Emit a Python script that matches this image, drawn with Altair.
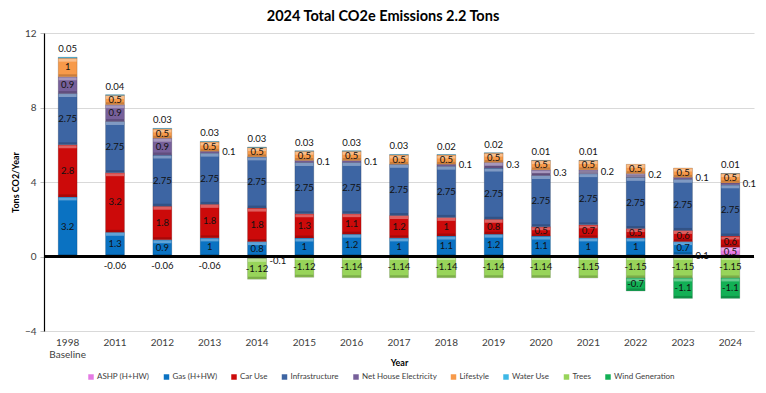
import altair as alt
import pandas as pd

title_text = "2024 Total CO2e Emissions 2.2 Tons"
years = ["1998|Baseline", "2011", "2012", "2013", "2014", "2015", "2016", "2017",
         "2018", "2019", "2020", "2021", "2022", "2023", "2024"]
series = ["ASHP (H+HW)", "Gas (H+HW)", "Car Use", "Infrastructure",
          "Net House Electricity", "Lifestyle", "Water Use", "Trees", "Wind Generation"]
colors = ["#E47AE4", "#0A72C2", "#CC0A0A", "#3D65A3", "#77609A", "#F79A4A",
          "#3DB8E6", "#98D45A", "#12B055"]

ashp      = [0, 0, 0, 0, 0, 0, 0, 0, 0, 0, 0, 0, 0, 0.1, 0.5]
gas       = [3.2, 1.3, 0.9, 1, 0.8, 1, 1.2, 1, 1.1, 1.2, 1.1, 1, 1, 0.7, 0]
car_use   = [2.8, 3.2, 1.8, 1.8, 1.8, 1.3, 1.1, 1.2, 1, 0.8, 0.5, 0.7, 0.5, 0.6, 0.6]
infra     = [2.75, 2.75, 2.75, 2.75, 2.75, 2.75, 2.75, 2.75, 2.75, 2.75, 2.75, 2.75, 2.75, 2.75, 2.75]
house_el  = [0.9, 0.9, 0.9, 0.1, -0.1, 0.1, 0.1, 0, 0.1, 0.3, 0.3, 0.2, 0.2, 0.1, 0.1]
lifestyle = [1, 0.5, 0.5, 0.5, 0.5, 0.5, 0.5, 0.5, 0.5, 0.5, 0.5, 0.5, 0.5, 0.5, 0.5]
water     = [0.05, 0.04, 0.03, 0.03, 0.03, 0.03, 0.03, 0.03, 0.02, 0.02, 0.01, 0.01, 0, 0, 0.01]
trees     = [0, -0.06, -0.06, -0.06, -1.12, -1.12, -1.14, -1.14, -1.14, -1.14, -1.14, -1.15, -1.15, -1.15, -1.15]
wind      = [0, 0, 0, 0, 0, 0, 0, 0, 0, 0, 0, 0, -0.7, -1.1, -1.1]

values = [ashp, gas, car_use, infra, house_el, lifestyle, water, trees, wind]

rows = []
for si, (s, vals) in enumerate(zip(series, values)):
    for y, v in zip(years, vals):
        if v != 0:
            rows.append({"year": y, "series": s, "order": si, "value": v, "label": f"{v:g}"})
df = pd.DataFrame(rows)

FONT = "Lato"

base = alt.Chart(df).transform_stack(
    stack="value", groupby=["year"], as_=["y0", "y1"], sort=[alt.SortField("order")]
).transform_calculate(
    mid="(datum.y0 + datum.y1) / 2",
    top="max(datum.y0, datum.y1)",
    bot="min(datum.y0, datum.y1)",
    pos="datum.series == 'Water Use' ? 'above' : "
        "((datum.series == 'Net House Electricity' || datum.series == 'ASHP (H+HW)') && abs(datum.value) <= 0.3 ? 'right' : "
        "(datum.series == 'Trees' && abs(datum.value) < 0.3 ? 'below' : 'in'))"
)

xenc = alt.X("year:N", sort=years, title="Year",
             scale=alt.Scale(paddingInner=0.6, paddingOuter=0.3),
             axis=alt.Axis(labelExpr="split(datum.value, '|')", labelAngle=0,
                           labelFontSize=10, labelFont=FONT, labelColor="#404040",
                           labelPadding=6, labelLineHeight=12, labelBaseline="top",
                           ticks=False, domainColor="#d9d9d9",
                           titleFont=FONT, titleFontSize=9, titleFontWeight="bold",
                           titleColor="#000000", titleY=31, titleBaseline="middle"))
yscale = alt.Scale(domain=[-4, 12], nice=False)

bars = base.mark_bar(stroke="#000000", strokeOpacity=0.25, strokeWidth=0.6).encode(
    x=xenc,
    y=alt.Y("y0:Q", scale=yscale, title="Tons CO2/Year",
            axis=alt.Axis(values=[-4, -2, 0, 2, 4, 6, 8, 10, 12], labelFont=FONT,
                          labelFontSize=10, labelColor="#404040", tickSize=4,
                          tickColor="#bfbfbf", labelPadding=4, gridColor="#d9d9d9",
                          domainColor="#000000", domainWidth=1.2,
                          titleFont=FONT, titleFontSize=9, titleFontWeight="bold",
                          titleColor="#000000", titleX=-29, titleY=149,
                          titleAngle=-90, titleAlign="center", titleBaseline="middle")),
    y2="y1:Q",
    color=alt.Color("series:N", sort=series,
                    scale=alt.Scale(domain=series, range=colors),
                    legend=alt.Legend(title=None, orient="none", direction="horizontal",
                                      legendX=43, legendY=340, symbolType="square",
                                      symbolSize=30, symbolStrokeWidth=0,
                                      labelFont=FONT, labelFontSize=8,
                                      labelColor="#404040", columnPadding=12.5,
                                      labelOffset=2)),
)

hl = base.transform_filter("abs(datum.value) >= 0.15").mark_tick(
    orient="horizontal", thickness=3, size=18, color="white", opacity=0.35, yOffset=2
).encode(x=alt.X("year:N", sort=years), y=alt.Y("top:Q", scale=yscale))

shade = base.transform_filter("abs(datum.value) >= 0.15").mark_tick(
    orient="horizontal", thickness=2, size=18, color="black", opacity=0.18, yOffset=-1.5
).encode(x=alt.X("year:N", sort=years), y=alt.Y("bot:Q", scale=yscale))

zero = alt.Chart(df).mark_rule(color="#000000", strokeWidth=1.5).encode(y=alt.datum(0))

tstyle = dict(font=FONT, fontSize=9.5, color="#111111")
lab_in = base.transform_filter("datum.pos == 'in'").mark_text(baseline="middle", **tstyle).encode(
    x=alt.X("year:N", sort=years), y=alt.Y("mid:Q", scale=yscale), text="label:N")
lab_right = base.transform_filter("datum.pos == 'right' && datum.value > 0").mark_text(
    align="left", baseline="middle", dx=12.5, **tstyle).encode(
    x=alt.X("year:N", sort=years), y=alt.Y("mid:Q", scale=yscale), text="label:N")
lab_right_neg = base.transform_filter("datum.pos == 'right' && datum.value < 0").mark_text(
    align="left", baseline="middle", dx=12.5, dy=4, **tstyle).encode(
    x=alt.X("year:N", sort=years), y=alt.Y("mid:Q", scale=yscale), text="label:N")
lab_above = base.transform_filter("datum.pos == 'above'").mark_text(
    baseline="bottom", dy=-3, **tstyle).encode(
    x=alt.X("year:N", sort=years), y=alt.Y("top:Q", scale=yscale), text="label:N")
lab_below = base.transform_filter("datum.pos == 'below'").mark_text(
    baseline="top", dy=3, **tstyle).encode(
    x=alt.X("year:N", sort=years), y=alt.Y("bot:Q", scale=yscale), text="label:N")

title_df = pd.DataFrame({"t": [title_text]})
title = alt.Chart(title_df).mark_text(
    font=FONT, fontSize=14.5, fontWeight="bold", color="#000000",
    align="center", baseline="middle"
).encode(x=alt.value(339), y=alt.value(-16), text="t:N")

chart = alt.layer(bars, hl, shade, zero, lab_in, lab_right, lab_right_neg,
                  lab_above, lab_below, title).properties(
    width=710, height=298,
    padding={"left": 36, "top": 25, "right": 3, "bottom": 52},
    autosize=alt.AutoSizeParams(type="none"),
).configure_view(stroke=None)

chart.save("out.html", embed_options={"renderer": "svg", "actions": False})
